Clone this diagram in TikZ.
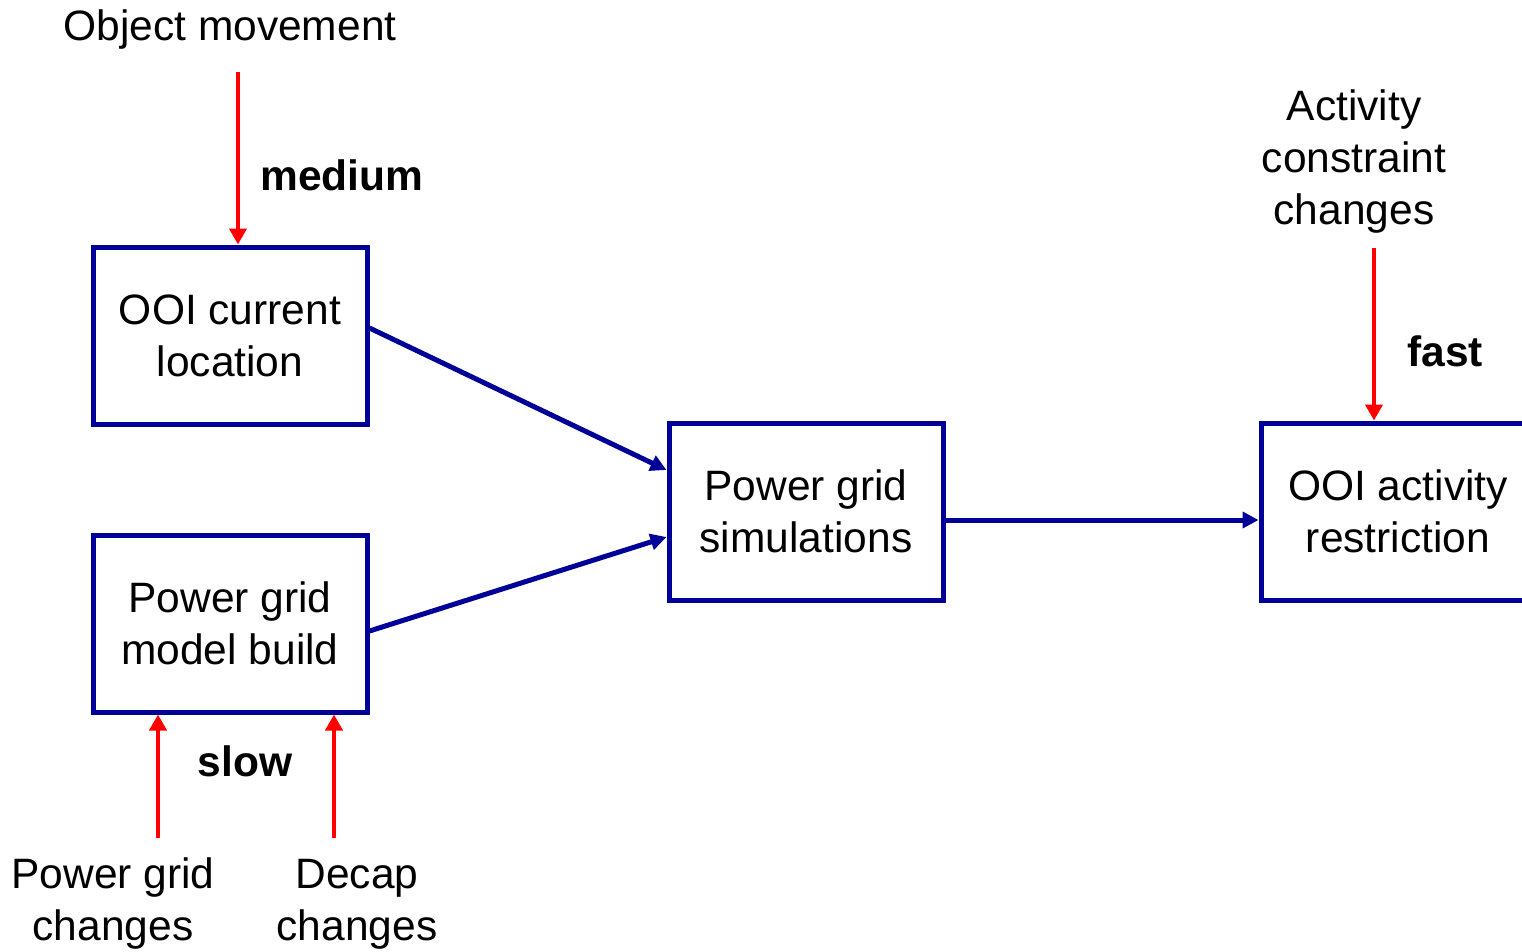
\documentclass[tikz,border=0pt]{standalone}
\usepackage{fontspec}
\setmainfont{Liberation Sans}
\usetikzlibrary{arrows.meta}
\definecolor{navy}{RGB}{0,0,153}
\definecolor{redarr}{RGB}{255,0,0}
\tikzset{
  box/.style={draw=navy, line width=5pt, minimum width=274pt, minimum height=177pt, align=center, inner sep=0pt},
  txt/.style={align=center, inner sep=0pt},
  flow/.style={draw=navy, line width=5pt, -{Triangle[length=16pt,width=16pt]}},
  rate/.style={draw=redarr, line width=4.5pt, -{Triangle[length=16pt,width=17pt]}},
  lbl/.style={font=\fontsize{42.5}{52}\selectfont\bfseries, inner sep=0pt}
}
\begin{document}
\begin{tikzpicture}[x=1pt,y=-1pt, every node/.style={font=\fontsize{42.5}{52}\selectfont}]
\useasboundingbox (0,0) rectangle (1522,952);
\clip (0,0) rectangle (1522,952);
\fill[white] (0,0) rectangle (1522,952);
% boxes
\node[box] (loc) at (230,335.5) {OOI current\\location};
\node[box] (model) at (230,623.5) {Power grid\\model build};
\node[box] (sim) at (806,511.5) {Power grid\\simulations};
\node[box] (act) at (1398,511.5) {OOI activity\\restriction};
% texts
\node[txt] (objmov) at (230,30) {Object movement};
\node[txt] (actcon) at (1354,162) {Activity\\constraint\\changes};
\node[txt] (pgc) at (113,904) {Power grid\\changes};
\node[txt] (decap) at (357,904) {Decap\\changes};
% rate labels
\node[lbl] (medium) at (342,175) {medium};
\node[lbl] (fast) at (1445,351) {fast};
\node[lbl] (slow) at (245,761) {slow};
% free ends
\coordinate (m0) at (238,72);
\coordinate (f0) at (1374,248);
\coordinate (s1) at (158,838);
\coordinate (s2) at (334,838);
% red arrows
\draw[rate] (m0) -- (m0 |- loc.north);
\draw[rate] (f0) -- (f0 |- act.north);
\draw[rate] (s1) -- (s1 |- model.south);
\draw[rate] (s2) -- (s2 |- model.south);
% blue arrows
\draw[flow] ([yshift=7.5pt]loc.east) -- ([yshift=41.5pt]sim.west);
\draw[flow] ([yshift=-7.5pt]model.east) -- ([yshift=-25.5pt]sim.west);
\draw[flow] ([yshift=-8.5pt]sim.east) -- ([yshift=-8.5pt]act.west);
\end{tikzpicture}
\end{document}
